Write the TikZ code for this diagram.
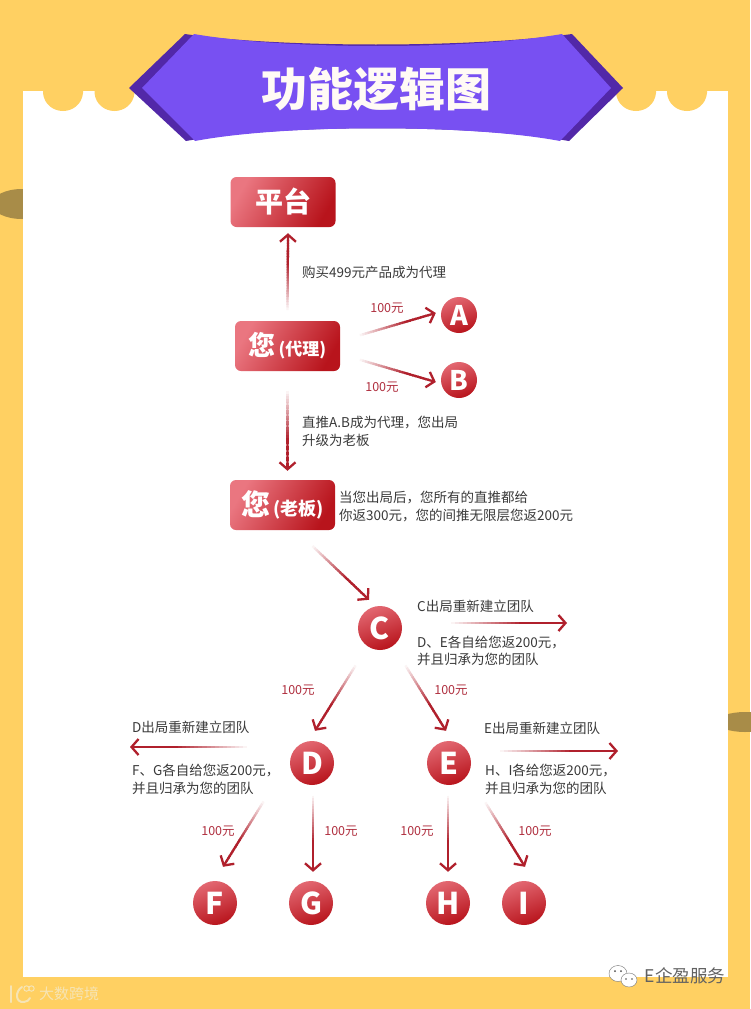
\documentclass[tikz,border=0pt]{standalone}
\usepackage{fontspec}
\setmainfont{Noto Sans CJK SC}
\usetikzlibrary{calc,arrows.meta}
\definecolor{bgorange}{HTML}{FFD062}
\definecolor{blobbrown}{HTML}{A88C48}
\definecolor{purplelight}{HTML}{7850F2}
\definecolor{purpledark}{HTML}{5228A8}
\definecolor{redlight}{HTML}{EA7680}
\definecolor{reddark}{HTML}{B8141C}
\definecolor{arrowred}{HTML}{B0202C}
\definecolor{labelred}{HTML}{B03040}
\definecolor{bodytext}{HTML}{3A3A3A}
\definecolor{wmark}{HTML}{F6E4B4}
\newcommand{\fs}[1]{\fontsize{#1}{#1}\selectfont}
\newcommand{\gradarrow}[2]{%
  \coordinate (ga) at #1;
  \coordinate (gb) at #2;
  \foreach \i in {0,...,26}{
    \pgfmathtruncatemacro{\c}{min(100,\i*100/18)}
    \draw[line width=2.3pt,draw=arrowred!\c!white] ($(ga)!{\i/30}!(gb)$) -- ($(ga)!{(\i+1.4)/30}!(gb)$);
  }
  \draw[line width=2.3pt,draw=arrowred,-{Straight Barb[length=7pt,width=16pt,line width=2.3pt]}] ($(ga)!.9!(gb)$) -- (gb);
}
\tikzset{
  x=1pt,y=-1pt,
  boxnode/.style={rectangle,rounded corners=6pt,minimum width=105pt,minimum height=50pt,inner sep=0pt,
    top color=redlight,bottom color=reddark,shading angle=60,text=white,font=\bfseries},
  ball/.style={circle,minimum size=44pt,inner sep=0pt,top color=redlight!85!reddark,bottom color=reddark,
    shading angle=20,text=white,font=\bfseries\fs{30}},
  smallball/.style={ball,minimum size=36pt,font=\bfseries\fs{27}},
  bodylabel/.style={anchor=west,inner sep=0pt,text=bodytext,align=left,font=\fs{13.5}},
  moneylabel/.style={inner sep=0pt,text=labelred,font=\fs{12.5}},
}
\begin{document}
\begin{tikzpicture}
\useasboundingbox (0,0) rectangle (750,1009);
% background
\fill[bgorange] (0,0) rectangle (750,1009);
\fill[blobbrown] (22,204) ellipse [x radius=30,y radius=15];
\fill[blobbrown] (745,722) ellipse [x radius=28,y radius=10];
\fill[white] (23,91) rectangle (728,977);
% scallops
\foreach \cx in {63,114.5,636,687}{
  \fill[bgorange] (\cx-20,90) -- (\cx-20,93) .. controls (\cx-19,104) and (\cx-10,111) .. (\cx,111)
     .. controls (\cx+10,111) and (\cx+19,104) .. (\cx+20,93) -- (\cx+20,90) -- cycle;
}
% banner
\fill[purpledark] (129,88) -- (185,34) .. controls (280,48) and (470,48) .. (572,34) -- (623,88) -- (569,141)
   .. controls (470,124) and (280,124) .. (186,141) -- cycle;
\fill[purplelight] (142,88) -- (194,34) .. controls (285,50) and (470,50) .. (562,34) -- (611,88) -- (560,141)
   .. controls (470,124) and (285,124) .. (195,141) -- cycle;
\node[inner sep=0pt,text=white!96!orange,font=\bfseries\fs{46}] (title) at (376,89) {功能逻辑图};
% nodes
\node[boxnode,font=\bfseries\fs{28}] (platform) at (283,202) {平台};
\node[boxnode] (agent) at (287.5,346) {\fs{27}您\fs{17}\,(代理)};
\node[boxnode] (boss) at (282.5,505) {\fs{29}您\fs{18}\,(老板)};
\node[smallball] (A) at (459,315) {A};
\node[smallball] (B) at (459,380) {B};
\node[ball] (C) at (380,628) {C};
\node[ball] (D) at (312,763) {D};
\node[ball] (E) at (449,763) {E};
\node[ball] (F) at (215,903) {F};
\node[ball] (G) at (311,903) {G};
\node[ball] (H) at (448,903) {H};
\node[ball] (I) at (524,903) {I};
% free ends of the side arrows
\coordinate (cout) at (567,623);
\coordinate (dout) at (130,747);
\coordinate (eout) at (618,751);
% connectors
\gradarrow{($(agent.north)+(0,-8)$)}{($(platform.south)+(5,6)$)}
\gradarrow{($(agent.east)+(17,-10)$)}{($(A.west)+(-5,-2)$)}
\gradarrow{($(agent.east)+(17,13)$)}{($(B.west)+(-5,2)$)}
\gradarrow{($(agent.south)+(0,17)$)}{($(boss.north)+(5,-9)$)}
\gradarrow{($(boss.south)+(28,14)$)}{($(C.north)+(-11,-6)$)}
\gradarrow{($(C.south)+(-23,13)$)}{($(D.north)+(3,-10)$)}
\gradarrow{($(C.south)+(24,13)$)}{($(E.north)+(-3,-10)$)}
\gradarrow{($(C.east)+(45,-5)$)}{(cout)}
\gradarrow{($(D.west)+(-39,-16)$)}{(dout)}
\gradarrow{($(E.east)+(25,-12)$)}{(eout)}
\gradarrow{($(D.south)+(-47,14)$)}{($(F.north)+(8,-14)$)}
\gradarrow{($(D.south)+(1,8)$)}{($(G.north)+(2,-9)$)}
\gradarrow{($(E.south)+(-1,8)$)}{($(H.north)+(0,-9)$)}
\gradarrow{($(E.south)+(35,15)$)}{($(I.north)+(1,-14)$)}
% body labels
\node[bodylabel] (t1) at (302,272) {购买499元产品成为代理};
\node[bodylabel,text depth=0pt] (t2) at (302,431) {直推A.B成为代理，您出局\\[4pt]升级为老板};
\node[bodylabel] (t3) at (339,506.5) {当您出局后，您所有的直推都给\\[5pt]你返300元，您的间推无限层您返200元};
\node[bodylabel] (t4) at (417,606) {C出局重新建立团队};
\node[bodylabel] (t5) at (417,651) {D、E各自给您返200元，\\[3pt]并且归承为您的团队};
\node[bodylabel] (t6) at (132,727) {D出局重新建立团队};
\node[bodylabel] (t7) at (132,779.5) {F、G各自给您返200元，\\[5pt]并且归承为您的团队};
\node[bodylabel] (t8) at (484,728) {E出局重新建立团队};
\node[bodylabel] (t9) at (485,779.5) {H、I各给您返200元，\\[5pt]并且归承为您的团队};
% money labels
\node[moneylabel] (m1) at (387,308) {100元};
\node[moneylabel] (m2) at (382,387) {100元};
\node[moneylabel] (m3) at (298,690) {100元};
\node[moneylabel] (m4) at (451,690) {100元};
\node[moneylabel] (m5) at (218,831) {100元};
\node[moneylabel] (m6) at (341,831) {100元};
\node[moneylabel] (m7) at (417,831) {100元};
\node[moneylabel] (m8) at (535,831) {100元};
% watermark left
\draw[wmark,line width=2pt,line cap=round] (11,986) -- (11,1002);
\draw[wmark,line width=2pt,line cap=round] (22,987) .. controls (15,991) and (15,1003) .. (24,1002) .. controls (27,1002) and (29,1000) .. (30,998);
\draw[wmark,line width=1pt] (26.5,988.5) circle [radius=2.7] (31.5,988.5) circle [radius=2.7];
\node[inner sep=0pt,text=wmark,font=\fs{15}] (wm1) at (69,994) {大数跨境};
% watermark right
\fill[white,draw=black!55,line width=.4pt] (618,973.5) ellipse [x radius=9,y radius=8];
\fill[white,draw=black!55,line width=.4pt] (629,980) ellipse [x radius=8,y radius=7];
\fill[black!70] (615,971) circle [radius=1] (621,971) circle [radius=1] (626,979) circle [radius=.9] (632,979) circle [radius=.9];
\node[inner sep=0pt,text=black!62,font=\fs{17.5}] (wm2) at (685,976) {E企盈服务};
\end{tikzpicture}
\end{document}
